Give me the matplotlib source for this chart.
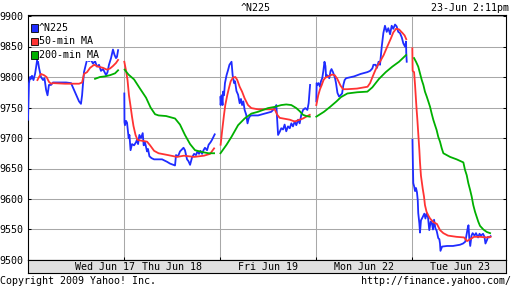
import matplotlib
matplotlib.use("Agg")
import matplotlib.pyplot as plt
from matplotlib.patches import Rectangle

# Nikkei 225 intraday, 5 trading days; time in hours after 9:00 for each day
days = ["Wed Jun 17", "Thu Jun 18", "Fri Jun 19", "Mon Jun 22", "Tue Jun 23"]
day_label_pos = [4.8, 9, 15, 21, 27]
hours_per_day = 6

n225_t = [
    [0.0, 0.06, 0.13, 0.19, 0.25, 0.34, 0.44, 0.5, 0.59, 0.69, 0.81, 0.94, 1.03, 1.13, 1.22, 1.31,
     1.44, 1.56, 2.0, 2.38, 2.69, 2.94, 3.19, 3.31, 3.38, 3.44, 3.5, 3.63, 3.72, 3.81, 3.94, 4.06,
     4.19, 4.31, 4.44, 4.56, 4.69, 4.88, 4.97, 5.06, 5.19, 5.31, 5.41, 5.5, 5.56, 5.63],
    [0.02, 0.03, 0.06, 0.13, 0.19, 0.29, 0.34, 0.41, 0.5, 0.63, 0.75, 0.81, 0.88, 0.96, 1.06, 1.17,
     1.23, 1.31, 1.44, 1.5, 1.59, 1.72, 1.88, 2.38, 2.69, 2.88, 3.19, 3.25, 3.38, 3.5, 3.72, 3.81,
     3.94, 4.03, 4.13, 4.25, 4.38, 4.5, 4.59, 4.69, 4.78, 4.88, 4.97, 5.06, 5.19, 5.29, 5.41, 5.5, 5.67],
    [0.02, 0.04, 0.09, 0.16, 0.19, 0.25, 0.31, 0.41, 0.5, 0.59, 0.72, 0.79, 0.88, 0.94, 1.03, 1.13,
     1.23, 1.31, 1.38, 1.46, 1.54, 1.64, 1.72, 1.79, 1.88, 1.97, 2.38, 2.79, 3.21, 3.42, 3.52, 3.58,
     3.63, 3.73, 3.83, 3.94, 4.04, 4.14, 4.25, 4.36, 4.46, 4.56, 4.67, 4.77, 4.88, 4.98, 5.08, 5.19,
     5.33, 5.46, 5.54, 5.63],
    [0.02, 0.04, 0.09, 0.16, 0.25, 0.31, 0.39, 0.46, 0.53, 0.59, 0.63, 0.69, 0.77, 0.83, 0.91, 0.97,
     1.06, 1.13, 1.19, 1.25, 1.34, 1.44, 1.53, 1.63, 1.71, 1.79, 1.88, 2.38, 2.79, 3.21, 3.38, 3.52,
     3.59, 3.73, 3.81, 3.91, 4.0, 4.11, 4.21, 4.31, 4.42, 4.52, 4.63, 4.73, 4.83, 4.94, 5.04, 5.14,
     5.25, 5.36, 5.46, 5.56, 5.63, 5.64, 5.67],
    [0.03, 0.06, 0.08, 0.14, 0.19, 0.25, 0.31, 0.36, 0.39, 0.46, 0.5, 0.56, 0.66, 0.77, 0.84, 0.91,
     1.0, 1.08, 1.17, 1.25, 1.31, 1.38, 1.46, 1.54, 1.64, 1.71, 1.75, 1.78, 1.88, 2.19, 2.56, 3.0,
     3.19, 3.33, 3.42, 3.48, 3.53, 3.58, 3.64, 3.72, 3.79, 3.91, 4.0, 4.13, 4.22, 4.31, 4.44, 4.53,
     4.59, 4.69, 4.75, 4.84, 4.91],
]
n225_v = [
    [9730, 9790, 9800, 9797, 9802, 9795, 9805, 9815, 9831, 9815, 9800, 9795, 9798, 9779, 9770, 9787,
     9787, 9791, 9791, 9791, 9790, 9775, 9760, 9756, 9770, 9790, 9808, 9822, 9831, 9826, 9828, 9822,
     9826, 9817, 9820, 9810, 9813, 9803, 9808, 9820, 9831, 9845, 9836, 9831, 9833, 9844],
    [9773, 9726, 9721, 9728, 9725, 9700, 9705, 9680, 9690, 9688, 9693, 9697, 9690, 9705, 9700, 9708,
     9688, 9693, 9678, 9682, 9670, 9667, 9665, 9665, 9661, 9658, 9655, 9672, 9670, 9678, 9684, 9680,
     9665, 9662, 9656, 9668, 9674, 9672, 9678, 9674, 9679, 9674, 9680, 9684, 9680, 9689, 9693, 9697, 9706],
    [9767, 9754, 9770, 9754, 9776, 9770, 9790, 9803, 9811, 9820, 9825, 9803, 9790, 9793, 9777, 9771,
     9757, 9764, 9754, 9760, 9746, 9738, 9724, 9732, 9736, 9737, 9737, 9740, 9743, 9749, 9754, 9727,
     9705, 9710, 9716, 9714, 9722, 9711, 9719, 9716, 9724, 9719, 9727, 9721, 9730, 9724, 9738, 9746,
     9749, 9746, 9757, 9787],
    [9760, 9790, 9787, 9790, 9784, 9793, 9798, 9810, 9825, 9818, 9800, 9803, 9801, 9798, 9810, 9813,
     9808, 9803, 9798, 9790, 9774, 9768, 9770, 9773, 9787, 9795, 9798, 9801, 9805, 9808, 9810, 9814,
     9820, 9820, 9815, 9825, 9820, 9850, 9872, 9884, 9874, 9880, 9870, 9884, 9879, 9886, 9883, 9874,
     9872, 9865, 9855, 9850, 9858, 9840, 9825],
    [9697, 9650, 9626, 9620, 9613, 9618, 9611, 9598, 9577, 9560, 9545, 9565, 9570, 9576, 9568, 9576,
     9570, 9549, 9563, 9560, 9550, 9566, 9552, 9548, 9536, 9534, 9527, 9515, 9522, 9523, 9523, 9525,
     9527, 9530, 9543, 9552, 9557, 9536, 9523, 9540, 9544, 9540, 9544, 9537, 9543, 9540, 9543, 9538,
     9527, 9533, 9538, 9537, 9539],
]

ma50_t = [
    [0.59, 0.69, 0.81, 1.0, 1.16, 1.31, 1.44, 1.56, 2.31, 3.19, 3.38, 3.5, 3.69, 3.88, 4.13, 4.38,
     4.69, 4.94, 5.13, 5.31, 5.5, 5.63],
    [0.02, 0.13, 0.22, 0.31, 0.41, 0.5, 0.59, 0.72, 0.84, 1.0, 1.44, 1.63, 1.88, 2.16, 2.75, 3.31,
     3.75, 4.38, 5.0, 5.38, 5.63],
    [0.04, 0.13, 0.25, 0.33, 0.46, 0.56, 0.67, 0.81, 0.96, 1.08, 1.23, 1.38, 1.54, 1.75, 1.96, 2.38,
     3.0, 3.42, 3.58, 3.73, 3.94, 4.36, 4.67, 4.98, 5.19, 5.39, 5.61],
    [0.02, 0.14, 0.25, 0.36, 0.47, 0.59, 0.78, 1.0, 1.17, 1.33, 1.53, 1.69, 1.94, 2.56, 3.22, 3.38,
     3.53, 3.69, 3.83, 4.02, 4.23, 4.44, 4.66, 4.83, 5.0, 5.19, 5.41, 5.54, 5.64],
    [0.02, 0.04, 0.13, 0.19, 0.25, 0.29, 0.33, 0.39, 0.46, 0.5, 0.56, 0.67, 0.75, 0.81, 0.91, 1.02,
     1.13, 1.34, 1.56, 1.75, 1.96, 2.25, 2.78, 3.25, 3.44, 3.63, 3.88, 4.25, 4.66, 4.91],
]
ma50_v = [
    [9795, 9800, 9805, 9803, 9800, 9792, 9789, 9790, 9789, 9789, 9791, 9805, 9808, 9815, 9820, 9817,
     9815, 9812, 9814, 9818, 9823, 9828],
    [9825, 9810, 9795, 9770, 9752, 9735, 9720, 9705, 9697, 9696, 9694, 9688, 9679, 9675, 9672, 9669,
     9671, 9669, 9671, 9674, 9683],
    [9689, 9711, 9738, 9754, 9771, 9782, 9793, 9799, 9800, 9795, 9784, 9776, 9765, 9754, 9749, 9747,
     9747, 9747, 9738, 9733, 9732, 9730, 9727, 9730, 9732, 9735, 9738],
    [9754, 9770, 9780, 9787, 9795, 9799, 9801, 9804, 9803, 9797, 9786, 9780, 9780, 9781, 9784, 9790,
     9800, 9810, 9818, 9826, 9836, 9849, 9862, 9873, 9879, 9878, 9872, 9868, 9862],
    [9847, 9810, 9808, 9787, 9762, 9746, 9732, 9708, 9680, 9660, 9638, 9617, 9604, 9590, 9579, 9573,
     9568, 9562, 9559, 9549, 9544, 9540, 9538, 9537, 9531, 9534, 9538, 9538, 9537, 9538],
]

ma200_t = [
    [4.19, 4.5, 4.81, 5.13, 5.44, 5.63],
    [0.04, 0.28, 0.63, 1.0, 1.38, 1.66, 1.94, 2.16, 2.63, 3.19, 3.5, 3.81, 4.13, 4.44, 4.88, 5.28, 5.63],
    [0.03, 0.41, 0.72, 1.13, 1.54, 1.96, 2.38, 3.0, 3.42, 3.83, 4.14, 4.46, 4.77, 4.98, 5.19, 5.39, 5.61],
    [0.02, 0.5, 0.88, 1.28, 1.56, 1.96, 2.58, 3.21, 3.52, 3.94, 4.36, 4.77, 5.19, 5.39, 5.63],
    [0.13, 0.25, 0.39, 0.5, 0.61, 0.71, 0.81, 0.92, 1.02, 1.13, 1.23, 1.33, 1.44, 1.54, 1.64, 1.75,
     1.86, 1.96, 2.38, 2.79, 3.21, 3.31, 3.42, 3.52, 3.63, 3.73, 3.83, 3.94, 4.04, 4.14, 4.25, 4.46,
     4.67, 4.88],
]
ma200_v = [
    [9797, 9800, 9801, 9803, 9806, 9811],
    [9812, 9804, 9796, 9781, 9766, 9750, 9739, 9737, 9736, 9732, 9722, 9705, 9690, 9680, 9677, 9675, 9675],
    [9675, 9689, 9702, 9721, 9732, 9740, 9743, 9749, 9751, 9754, 9755, 9754, 9749, 9744, 9738, 9736, 9735],
    [9735, 9743, 9751, 9760, 9767, 9773, 9775, 9776, 9783, 9797, 9808, 9817, 9825, 9830, 9836],
    [9831, 9825, 9817, 9806, 9795, 9787, 9776, 9768, 9760, 9751, 9740, 9730, 9721, 9713, 9702, 9694,
     9683, 9675, 9669, 9665, 9660, 9648, 9639, 9626, 9615, 9604, 9590, 9579, 9571, 9563, 9556, 9550,
     9546, 9544],
]

series = [
    ("^N225", n225_t, n225_v, "#1f2cff"),
    ("50-min MA", ma50_t, ma50_v, "#ff3333"),
    ("200-min MA", ma200_t, ma200_v, "#00b000"),
]
yticks = [9500, 9550, 9600, 9650, 9700, 9750, 9800, 9850, 9900]

W, H = 512, 288
MONO = "DejaVu Sans Mono"
FS = 7.2

fig = plt.figure(figsize=(W / 100, H / 100), dpi=100)
ax = fig.add_axes([28 / W, (H - 260) / H, 478 / W, 245 / H])
ax.set_xlim(0, 478 / 16)
ax.set_ylim(9500, 9500 + 245 / 0.61)

# grid, ticks
for y in yticks:
    ax.axhline(y, color="#a8a8a8", lw=0.75, zorder=1)
for d in range(1, len(days)):
    ax.axvline(d * hours_per_day, color="#a8a8a8", lw=0.75, zorder=1)
ax.set_yticks(yticks)
ax.set_yticklabels([str(y) for y in yticks], fontsize=FS, family=MONO)
ax.set_xticks([d * hours_per_day for d in range(1, len(days))])
ax.set_xticklabels([])
ax.tick_params(direction="in", length=2.5, width=0.75, pad=3.5, right=True, labelright=False)
for s in ax.spines.values():
    s.set_linewidth(0.8)

for name, tt, vv, col in series:
    for d, (t, v) in enumerate(zip(tt, vv)):
        ax.plot([d * hours_per_day + h for h in t], v, color=col, lw=1.3, zorder=3)

# date strip
bar = fig.add_axes([28 / W, (H - 273) / H, 478 / W, 13 / H], facecolor="#e0e0e0")
bar.set_xlim(ax.get_xlim())
bar.set_ylim(0, 1)
bar.set_xticks([])
bar.set_yticks([])
for s in bar.spines.values():
    s.set_linewidth(0.8)
for lab, x in zip(days, day_label_pos):
    bar.text(x, 0.5, lab, ha="center", va="center", fontsize=FS, family=MONO)

# legend
for i, (name, tt, vv, col) in enumerate(series):
    yc = 28 + i * 13.5
    fig.add_artist(Rectangle((31 / W, 1 - (yc + 3.5) / H), 7 / W, 7 / H, transform=fig.transFigure,
                             fc=col, ec="black", lw=0.6, zorder=5))
    fig.text(39 / W, 1 - yc / H, name, ha="left", va="center", fontsize=FS, family=MONO,
             bbox=dict(fc="white", ec="none", pad=0.6), zorder=4)

fig.text(256 / W, 1 - 8 / H, "^N225", ha="center", va="center", fontsize=FS, family=MONO)
fig.text(509 / W, 1 - 8 / H, "23-Jun 2:11pm", ha="right", va="center", fontsize=FS, family=MONO)
fig.text(0.5 / W, 1 - 281 / H, "Copyright 2009 Yahoo! Inc.", ha="left", va="center", fontsize=FS, family=MONO)
fig.text(511 / W, 1 - 281 / H, "http://finance.yahoo.com/", ha="right", va="center", fontsize=FS, family=MONO)

fig.savefig("out.png", dpi=100)
